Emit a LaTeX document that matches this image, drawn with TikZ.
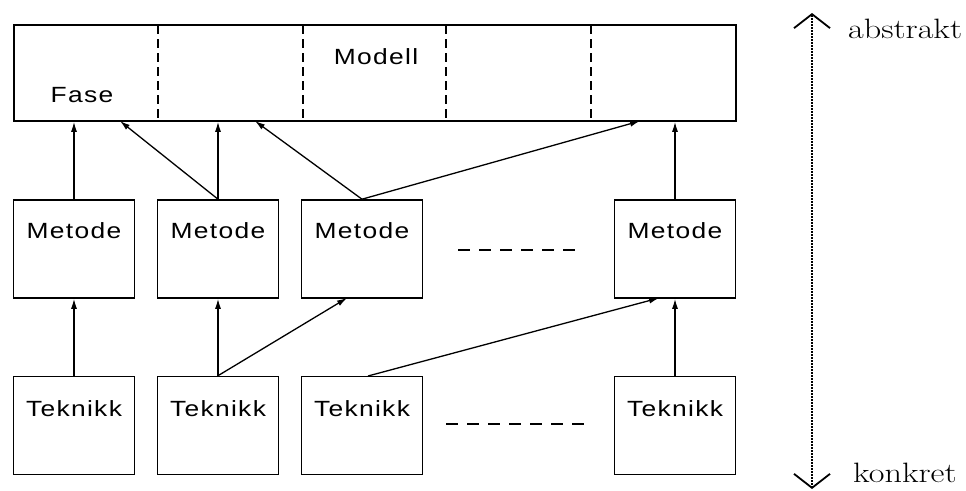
\documentclass[tikz,border=0pt]{standalone}
\usepackage{fontspec}
\usetikzlibrary{arrows.meta,calc}
\newfontfamily\boxfont{Liberation Sans}[FakeStretch=1.2,LetterSpace=6]
\newfontfamily\sidefont{Latin Modern Roman}[FakeStretch=1.22]
\begin{document}
\begin{tikzpicture}[x=1pt,y=-1pt,
  boxtxt/.style={font=\boxfont\fontsize{22}{26}\selectfont},
  sidetxt/.style={font=\sidefont\fontsize{28}{32}\selectfont},
  smallbox/.style={draw,line width=1.6pt,minimum width=121pt,minimum height=98pt,inner sep=0pt},
  conn/.style={line width=1.3pt,-{Latex[length=10pt,width=6pt]}},
  divider/.style={line width=1.3pt,dash pattern=on 9pt off 5pt},
  gap/.style={line width=1.3pt,dash pattern=on 12pt off 9pt}]
\useasboundingbox (0,0) rectangle (966,490);

% model box
\node[draw,line width=1.6pt,minimum width=722pt,minimum height=96pt,inner sep=0pt] (model) at (375,73) {};
\foreach \xx in {158,303,446,591} \draw[divider] (\xx,25) -- (\xx,121);
\node[boxtxt,anchor=base] (fase) at (82,102) {Fase};
\node[boxtxt,anchor=base] (modell) at (376,64) {Modell};

% Metode boxes
\foreach \n/\xx in {m1/74,m2/218,m3/362,m4/675}
  \node[smallbox,label={[boxtxt,anchor=base,yshift=-39pt]north:Metode}] (\n) at (\xx,249) {};
% Teknikk boxes
\foreach \n/\xx in {t1/74,t2/218,t3/362,t4/675}
  \node[smallbox,label={[boxtxt,anchor=base,yshift=-41pt]north:Teknikk}] (\n) at (\xx,425.5) {};

% target points on model bottom
\coordinate (f1) at (120,121);
\coordinate (f2) at (255,121);
\coordinate (f3) at (640,121);
\coordinate (b3) at (347,298);
\coordinate (b4) at (659,298);
\coordinate (s3) at (368,376);

% Metode -> model
\draw[conn] (m1.north) -- (m1.north |- model.south);
\draw[conn] (m2.north) -- (m2.north |- model.south);
\draw[conn] (m2.north) -- (f1);
\draw[conn] (m3.north) -- (f2);
\draw[conn] (m3.north) -- (f3);
\draw[conn] (m4.north) -- (m4.north |- model.south);

% Teknikk -> Metode
\draw[conn] (t1.north) -- (m1.south);
\draw[conn] (t2.north) -- (m2.south);
\draw[conn] (t2.north) -- (b3);
\draw[conn] (s3) -- (b4);
\draw[conn] (t4.north) -- (m4.south);

% continuation dashes
\coordinate (g1a) at (458,250); \coordinate (g1b) at (575,250);
\coordinate (g2a) at (446,424); \coordinate (g2b) at (586,424);
\draw[gap] (g1a) -- (g1b);
\draw[gap] (g2a) -- (g2b);

% abstraction axis
\coordinate (top) at (812,13);
\coordinate (bot) at (812,489);
\draw[line width=1.8pt,dash pattern=on 1.5pt off 1.5pt,
  {Straight Barb[length=14pt,width=36pt,line width=1.8pt]}-{Straight Barb[length=14pt,width=36pt,line width=1.8pt]}] (top) -- (bot);
\node[sidetxt,anchor=base west,inner sep=0pt] (abs) at (848,38) {abstrakt};
\node[sidetxt,anchor=base west,inner sep=0pt] (kon) at (853,482) {konkret};
\end{tikzpicture}
\end{document}
